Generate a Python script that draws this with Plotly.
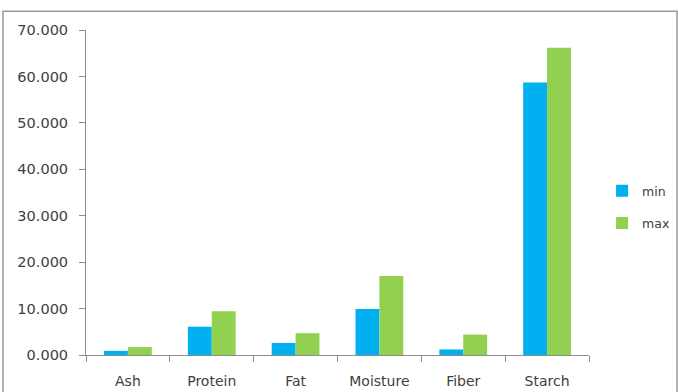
import plotly.graph_objects as go

# Composition ranges (%) per component
categories = ["Ash", "Protein", "Fat", "Moisture", "Fiber", "Starch"]
min_values = [0.9, 6.1, 2.6, 9.9, 1.2, 58.7]
max_values = [1.7, 9.4, 4.7, 17.0, 4.4, 66.2]
y_ticks = [0, 10, 20, 30, 40, 50, 60, 70]

axis_grey = "#8c8c8c"
font_family = "DejaVu Sans, Verdana, sans-serif"

fig = go.Figure()
fig.add_trace(go.Bar(name="min", x=categories, y=min_values,
                     marker=dict(color="#00B0F0", line=dict(width=0)),
                     legendgroup="a"))
fig.add_trace(go.Bar(name="max", x=categories, y=max_values,
                     marker=dict(color="#92D050", line=dict(width=0)),
                     legendgroup="b"))

fig.update_layout(
    width=678, height=392,
    margin=dict(l=86, r=89, t=30, b=37, autoexpand=False),
    paper_bgcolor="white", plot_bgcolor="white",
    barmode="group", bargap=0.43, bargroupgap=0,
    font=dict(family=font_family, size=13, color="#404040"),
    showlegend=True,
    legend=dict(x=1.026, y=0.455, xanchor="left", yanchor="middle",
                font=dict(size=12.5, color="#404040"),
                tracegroupgap=13, itemwidth=30,
                bgcolor="rgba(0,0,0,0)"),
    xaxis=dict(showline=True, linecolor=axis_grey, linewidth=1,
               ticks="outside", tickson="boundaries", ticklen=6,
               tickcolor=axis_grey, showgrid=False, zeroline=False,
               ticklabelstandoff=13, tickfont=dict(size=14)),
    yaxis=dict(range=[0, 70], tickvals=y_ticks, tickformat=".3f",
               showline=True, linecolor=axis_grey, linewidth=1,
               ticks="outside", ticklen=6, tickcolor=axis_grey,
               showgrid=False, zeroline=False, ticklabelstandoff=8,
               tickfont=dict(size=14.5)),
    shapes=[dict(type="rect", xref="paper", yref="paper",
                 x0=-0.165, x1=1.175, y0=-0.13, y1=1.058,
                 line=dict(color="#9a9a9a", width=1.5), layer="below")],
)

fig.write_html("out.html")
